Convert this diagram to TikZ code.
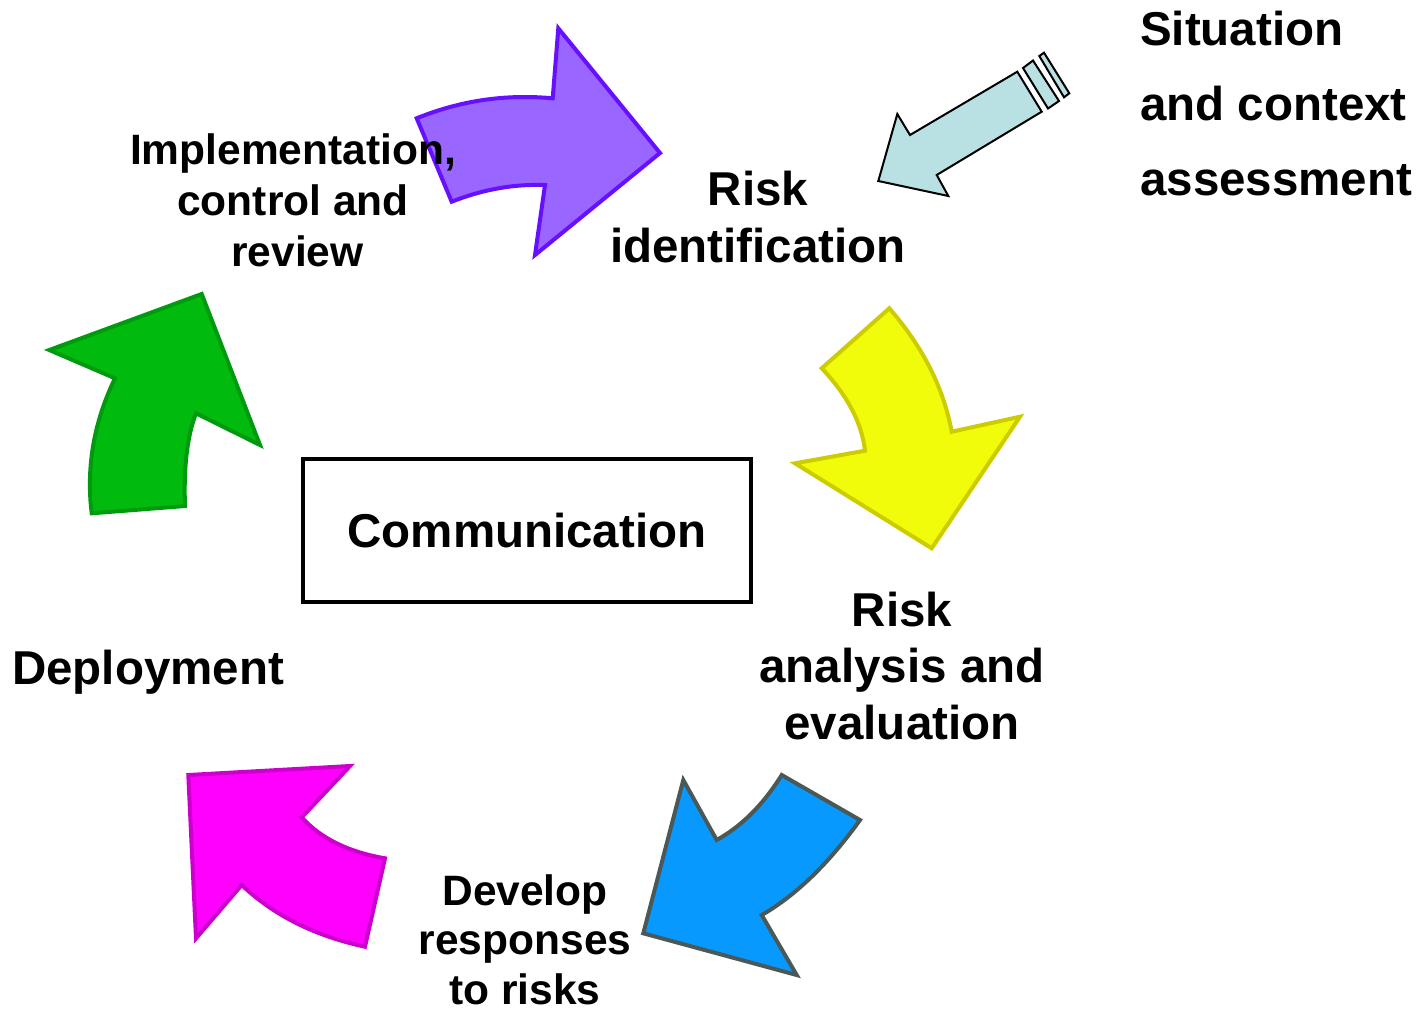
\documentclass[tikz,border=0pt]{standalone}
\usepackage{fontspec}
\setmainfont{Liberation Sans}
\definecolor{purpF}{HTML}{9966FF}
\definecolor{purpS}{HTML}{6610FF}
\definecolor{cyanF}{HTML}{B9E0E3}
\definecolor{yelF}{HTML}{F0FC0A}
\definecolor{yelS}{HTML}{CCCC00}
\definecolor{bluF}{HTML}{0899FF}
\definecolor{bluS}{HTML}{4A5858}
\definecolor{magF}{HTML}{FF00FF}
\definecolor{magS}{HTML}{CC00CC}
\definecolor{grnF}{HTML}{00BB0E}
\definecolor{grnS}{HTML}{009A0E}
\tikzset{
  arrowshape/.style={line width=4pt, line join=miter, miter limit=10},
  lbl/.style={inner sep=0pt, align=center, text=black},
  bigfont/.style={font=\bfseries\fontsize{47.5}{#1}\selectfont},
  smallfont/.style={font=\bfseries\fontsize{42.5}{#1}\selectfont}
}
\begin{document}
\begin{tikzpicture}[x=1pt,y=-1pt]
\useasboundingbox (0,0) rectangle (1418,1013);

% purple arrow (top)
\draw[arrowshape, draw=purpS, fill=purpF]
  (416.7,118.3) .. controls (460.2,100.6) and (505.5,93.9) .. (552.7,98.3)
  -- (558.3,28.3) -- (660,153) -- (535,255) -- (545,185)
  .. controls (513.9,183.9) and (482.8,189.4) .. (451.7,201.7) -- cycle;

% light blue striped arrow
\draw[line width=2pt, line join=miter, fill=cyanF]
  (878.3,181) -- (897.3,114) -- (910,135) -- (1017.3,71.7) -- (1041.7,111.7)
  -- (936.7,175) -- (948.3,196) -- cycle;
\draw[line width=2pt, line join=miter, fill=cyanF]
  (1023,68) -- (1033,60.5) -- (1059,101) -- (1048,108.5) -- cycle;
\draw[line width=2pt, line join=miter, fill=cyanF]
  (1039.3,56) -- (1044,52.7) -- (1069.3,93.3) -- (1064,97.3) -- cycle;

% yellow arrow (right)
\draw[arrowshape, draw=yelS, fill=yelF]
  (821.7,368.3) -- (889.3,308.3)
  .. controls (922.8,346.8) and (943.6,387.9) .. (951.7,431.7)
  -- (1020,416.7) -- (931.7,548.3) -- (795,463.3) -- (865,450.7)
  .. controls (861.7,422.6) and (847.2,395.1) .. (821.7,368.3) -- cycle;

% blue arrow (bottom right)
\draw[arrowshape, draw=bluS, fill=bluF]
  (781.7,775) -- (860,820)
  .. controls (828.4,863.9) and (795.6,895.6) .. (761.7,915)
  -- (796.7,975) -- (643.3,933.3) -- (683.3,780) -- (716.7,840)
  .. controls (741.7,826.1) and (763.4,804.4) .. (781.7,775) -- cycle;

% magenta arrow (bottom left)
\draw[arrowshape, draw=magS, fill=magF]
  (350,766) -- (188.3,775) -- (196,938.3) -- (241.7,885)
  .. controls (273.9,915.5) and (315,936) .. (365,946.7)
  -- (385,858.3)
  .. controls (348.3,852) and (320.6,838.3) .. (301.7,817.3) -- cycle;

% green arrow (left)
\draw[arrowshape, draw=grnS, fill=grnF]
  (91.7,513.3) -- (185,506)
  .. controls (183.6,466.6) and (187.3,435.7) .. (196,413.3)
  -- (260,445) -- (201.7,294) -- (49.3,350) -- (115,378.3)
  .. controls (93.8,422.2) and (86.0,467.2) .. (91.7,513.3) -- cycle;

% central box
\node[lbl, bigfont=57, draw, line width=4pt, minimum width=448pt, minimum height=143pt]
  (comm) at (527,530.5) {Communication};

% labels
\node[lbl, smallfont=51, anchor=north] (impl) at (293,133.4)
  {Implementation,\\control and\\\hspace*{9pt}review};
\node[lbl, bigfont=57, anchor=north] (riskid) at (758,170.8)
  {Risk\\identification};
\node[lbl, bigfont=75, align=left, anchor=north west] (situ) at (1140,10.8)
  {Situation\\and context\\assessment};
\node[lbl, bigfont=56.5, anchor=north] (riskan) at (902,591.8)
  {Risk\\analysis and\\evaluation};
\node[lbl, smallfont=49.5, anchor=north] (develop) at (525,874)
  {Develop\\responses\\to risks};
\node[lbl, bigfont=57, anchor=base] (deploy) at (148,684)
  {Deployment};
\end{tikzpicture}
\end{document}
